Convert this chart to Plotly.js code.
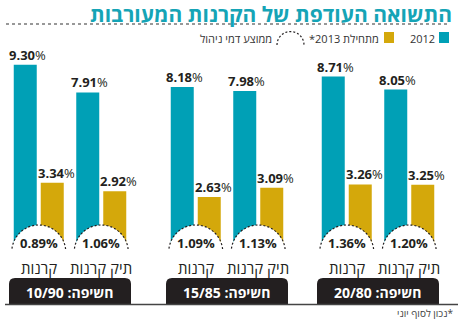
<!DOCTYPE html>
<html><head><meta charset="utf-8">
<script src="https://cdn.plot.ly/plotly-3.0.1.min.js"></script>
<style>html,body{margin:0;padding:0;background:#fff}</style>
</head><body><div id="chart" style="width:458px;height:322px"></div>
<script>
// ---- data ----
const exposures = ['10/90', '15/85', '20/80'];
const products = ['קרנות', 'תיק קרנות'];
const ret2012 = [9.30, 7.91, 8.18, 7.98, 8.71, 8.05];
const ret2013 = [3.34, 2.92, 2.63, 3.09, 3.26, 3.25];
const fees = [0.89, 1.06, 1.09, 1.13, 1.36, 1.20];
const seriesNames = ['2012', 'מתחילת 2013*'];
const feeLegend = 'ממוצע דמי ניהול';
const exposureWord = 'חשיפה';
const titleText = 'התשואה העודפת של הקרנות המעורבות';
const footnote = '*נכון לסוף יוני';

// ---- layout constants ----
const W = 458, H = 322;
const M = {l: 0, r: 0, t: 55, b: 73};
const plotH = H - M.t - M.b;
const TEAL = '#00a0b6', GOLD = '#d4a80b', INK = '#231f20';
const FONT = '"Open Sans", "Liberation Sans", "DejaVu Sans", sans-serif';
const groupCenters = [70, 227, 378];
const pairOffset = 31.25, barOffset = 13.5, barW = 23;
const rtl = s => '\u202B' + s + '\u202C';

const px = p => p / W;
const py = p => (H - M.b - p) / plotH;

const pairX = [];
for (let g = 0; g < exposures.length; g++)
  for (let p = 0; p < products.length; p++)
    pairX.push(groupCenters[g] + (p ? 1 : -1) * pairOffset);
const x2012 = pairX.map(c => c - barOffset);
const x2013 = pairX.map(c => c + barOffset);

const traces = [
  {type: 'bar', name: seriesNames[0], x: x2012, y: ret2012, width: barW,
   marker: {color: TEAL, line: {width: 0}}, hoverinfo: 'skip'},
  {type: 'bar', name: seriesNames[1], x: x2013, y: ret2013, width: barW,
   marker: {color: GOLD, line: {width: 0}}, hoverinfo: 'skip'}
];

const shapes = [];
const annotations = [];

// value labels
function valLabel(x, v, shift) {
  annotations.push({xref: 'x', yref: 'y', x: x, y: v, xanchor: 'center', yanchor: 'bottom',
    xshift: shift, yshift: -1, showarrow: false,
    text: '<b>' + v.toFixed(2) + '</b>%',
    font: {family: FONT, size: 13, color: INK}});
}
ret2012.forEach((v, i) => valLabel(x2012[i], v, 2));
ret2013.forEach((v, i) => valLabel(x2013[i], v, 4));

// fee semicircles + labels + product labels
pairX.forEach((c, i) => {
  shapes.push({type: 'circle', xref: 'x', yref: 'y', xsizemode: 'pixel', ysizemode: 'pixel',
    xanchor: c, yanchor: 0, x0: -27, x1: 27, y0: -30, y1: 24, layer: 'above',
    fillcolor: '#ffffff', line: {color: INK, width: 1.2, dash: '2px,2px'}});
  annotations.push({xref: 'x', yref: 'paper', x: c, y: py(242.5), xanchor: 'center', yanchor: 'middle',
    showarrow: false, text: '<b>' + fees[i].toFixed(2) + '%</b>',
    font: {family: FONT, size: 13, color: INK}});
  annotations.push({xref: 'x', yref: 'paper', x: c, y: py(268), xanchor: 'center', yanchor: 'middle',
    showarrow: false, text: products[i % 2],
    font: {family: FONT, size: 15, color: INK}});
});

// exposure tabs
exposures.forEach((e, g) => {
  const c = groupCenters[g], x0 = c - 61, x1 = c + 61, yt = 278, yb = 304.5, r = 6;
  const P = (a, b) => px(a) + ',' + py(b);
  shapes.push({type: 'path', xref: 'paper', yref: 'paper', layer: 'above',
    path: 'M' + P(x0, yb) + ' L' + P(x0, yt + r) + ' Q' + P(x0, yt) + ' ' + P(x0 + r, yt) +
          ' L' + P(x1 - r, yt) + ' Q' + P(x1, yt) + ' ' + P(x1, yt + r) + ' L' + P(x1, yb) + ' Z',
    fillcolor: INK, line: {width: 0}});
  annotations.push({xref: 'paper', yref: 'paper', x: px(c), y: py(292), xanchor: 'center', yanchor: 'middle',
    showarrow: false, text: '<b>' + rtl(exposureWord + ': ' + e) + '</b>',
    font: {family: FONT, size: 14, color: '#ffffff'}});
});

// baseline
shapes.push({type: 'line', xref: 'paper', yref: 'paper', x0: px(5), x1: px(458), y0: py(304.5), y1: py(304.5),
  line: {color: '#444', width: 1.5}});
// dotted rule under title
shapes.push({type: 'line', xref: 'paper', yref: 'paper', x0: px(6), x1: px(449), y0: py(24), y1: py(24),
  line: {color: '#777', width: 1.5, dash: 'dot'}});

// legend
function legendSquare(x0, color) {
  shapes.push({type: 'rect', xref: 'paper', yref: 'paper', x0: px(x0), x1: px(x0 + 10), y0: py(43), y1: py(32),
    fillcolor: color, line: {width: 0}});
}
function legendText(xr, t) {
  annotations.push({xref: 'paper', yref: 'paper', x: px(xr), y: py(38), xanchor: 'right', yanchor: 'middle',
    showarrow: false, text: rtl(t), font: {family: FONT, size: 11, color: '#333'}});
}
legendSquare(439, TEAL); legendText(437, seriesNames[0]);
legendSquare(384, GOLD); legendText(381, seriesNames[1]);
(function () {
  const cx = 290.5, cy = 45, r = 13.5; let d = '';
  for (let k = 0; k <= 36; k++) {
    const a = Math.PI * k / 36;
    d += (k ? ' L' : 'M') + px(cx - r * Math.cos(a)) + ',' + py(cy - r * Math.sin(a));
  }
  shapes.push({type: 'path', xref: 'paper', yref: 'paper', path: d,
    line: {color: INK, width: 1.2, dash: '2px,2px'}});
})();
legendText(274, feeLegend);

// footnote
annotations.push({xref: 'paper', yref: 'paper', x: px(455), y: py(313), xanchor: 'right', yanchor: 'middle',
  showarrow: false, text: rtl(footnote), font: {family: FONT, size: 10, color: '#444'}});

const layout = {
  width: W, height: H, margin: {l: M.l, r: M.r, t: M.t, b: M.b, pad: 0},
  paper_bgcolor: '#ffffff', plot_bgcolor: '#ffffff',
  barmode: 'overlay', showlegend: false,
  title: {text: titleText, x: 452 / W, xanchor: 'right', xref: 'paper', y: 1 - 14.5 / H, yanchor: 'middle',
    yref: 'container', font: {family: FONT, size: 21, color: '#15a4b6', weight: 'bold'}},
  xaxis: {range: [0, W], visible: false, fixedrange: true},
  yaxis: {range: [0, plotH / 19.8], visible: false, fixedrange: true},
  shapes: shapes, annotations: annotations
};

Plotly.newPlot('chart', traces, layout, {displayModeBar: false, staticPlot: true});
</script>
</body></html>
